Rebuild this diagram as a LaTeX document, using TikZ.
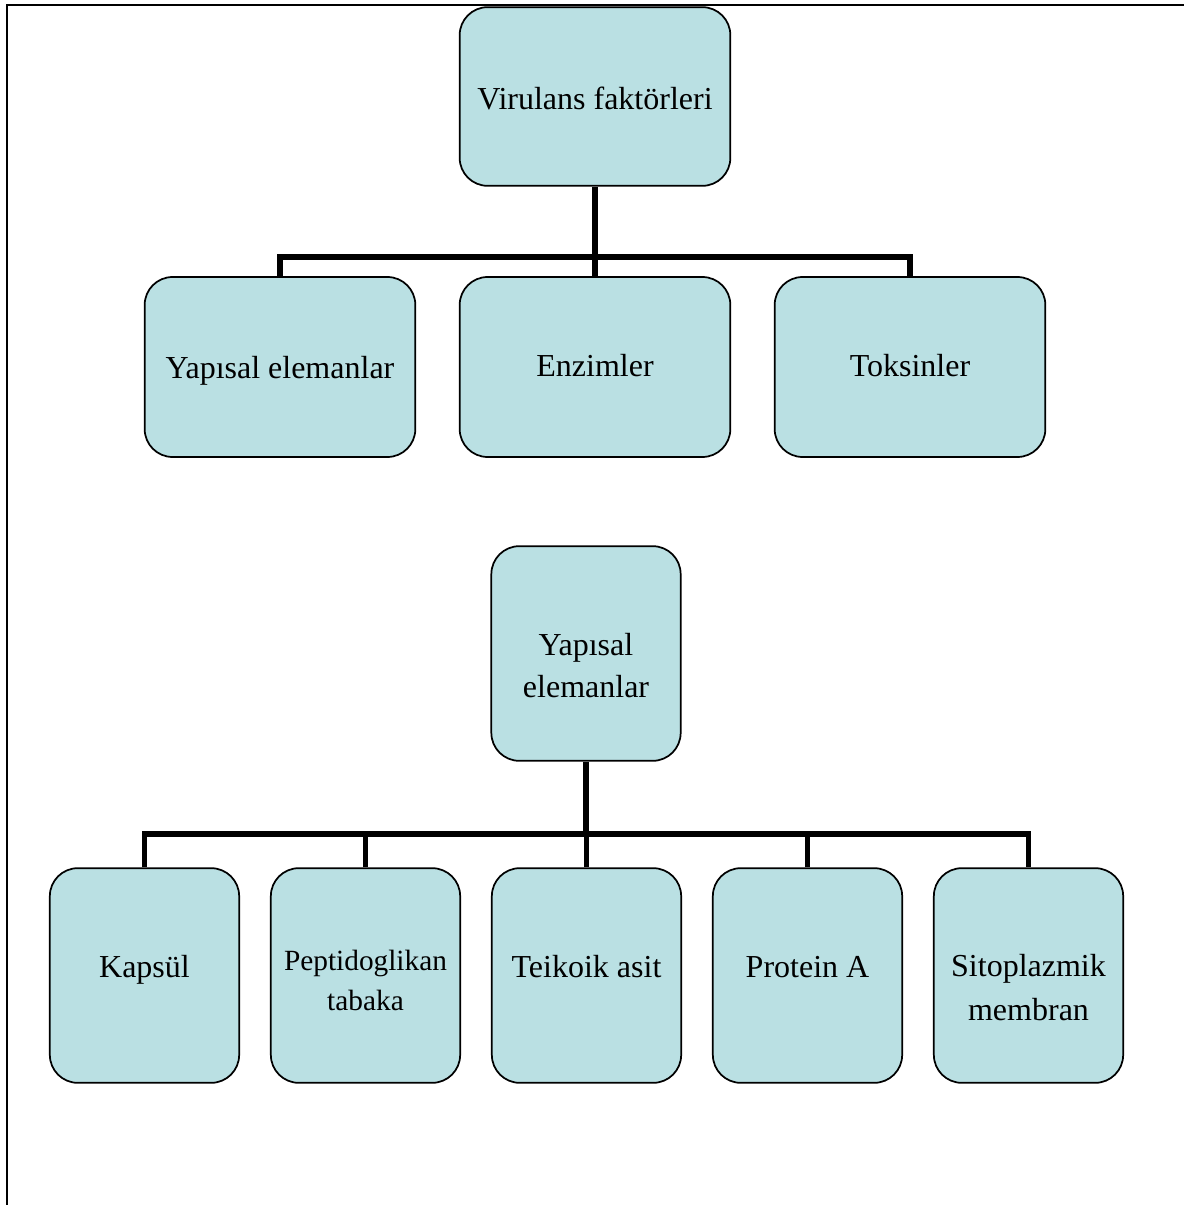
\documentclass[tikz,border=0pt]{standalone}
\usepackage{fontspec}
\setmainfont{Liberation Serif}
\definecolor{boxfill}{RGB}{186,224,227}
\begin{document}
\begin{tikzpicture}[x=0.75pt,y=-0.75pt,
  box/.style={draw=black, line width=1.3pt, fill=boxfill, rounded corners=21pt, inner sep=0pt},
  bigbox/.style={box, minimum width=203pt, minimum height=135pt},
  tallbox/.style={box, minimum width=142pt, minimum height=161pt},
  lbl/.style={font=\fontsize{24}{31}\selectfont, align=center, inner sep=0pt, anchor=base},
  smalllbl/.style={font=\fontsize{22}{30}\selectfont, align=center, inner sep=0pt, anchor=base},
  conn/.style={line width=4.2pt, line join=miter},
  frame/.style={line width=2.2pt}]
\useasboundingbox (0,0) rectangle (1183,1205);
\draw[frame] (7,1206) -- (7,5) -- (1184,5);

% first tree
\node[bigbox, minimum height=134pt] (vf) at (595,96.5) {};
\node[bigbox] (ye1) at (280,367) {};
\node[bigbox] (enz) at (595,367) {};
\node[bigbox] (tok) at (910,367) {};
\node[lbl] (tvf) at (595,110) {Virulans faktörleri};
\node[lbl] (tye1) at (280,378) {Yapısal elemanlar};
\node[lbl] (tenz) at (595,376) {Enzimler};
\node[lbl] (ttok) at (910,376) {Toksinler};
\coordinate (j1) at (595,257);
\draw[conn] (vf.south) -- (vf.south |- j1);
\draw[conn] (ye1.north) |- (j1) -| (tok.north);
\draw[conn] (enz.north) -- (enz.north |- j1);

% second tree
\node[tallbox] (ye2) at (586,653.5) {};
\node[tallbox] (kap) at (144.5,975.5) {};
\node[tallbox] (pep) at (365.5,975.5) {};
\node[tallbox] (tei) at (586.5,975.5) {};
\node[tallbox] (pro) at (807.5,975.5) {};
\node[tallbox] (sit) at (1028.5,975.5) {};
\node[lbl] (tye2) at (586,697) {Yapısal\\elemanlar};
\node[lbl] (tkap) at (144.5,977) {Kapsül};
\node[smalllbl] (tpep) at (365.5,1010) {Peptidoglikan\\tabaka};
\node[lbl] (ttei) at (586.5,977) {Teikoik asit};
\node[lbl] (tpro) at (807.5,977) {Protein A};
\node[lbl, font=\fontsize{24}{32.3}\selectfont] (tsit) at (1028.5,1020) {Sitoplazmik\\membran};
\coordinate (j2) at (586.5,834);
\draw[conn] (ye2.south) -- (ye2.south |- j2);
\draw[conn] (kap.north) |- (j2) -| (sit.north);
\draw[conn] (pep.north) -- (pep.north |- j2);
\draw[conn] (tei.north) -- (tei.north |- j2);
\draw[conn] (pro.north) -- (pro.north |- j2);
\end{tikzpicture}
\end{document}
